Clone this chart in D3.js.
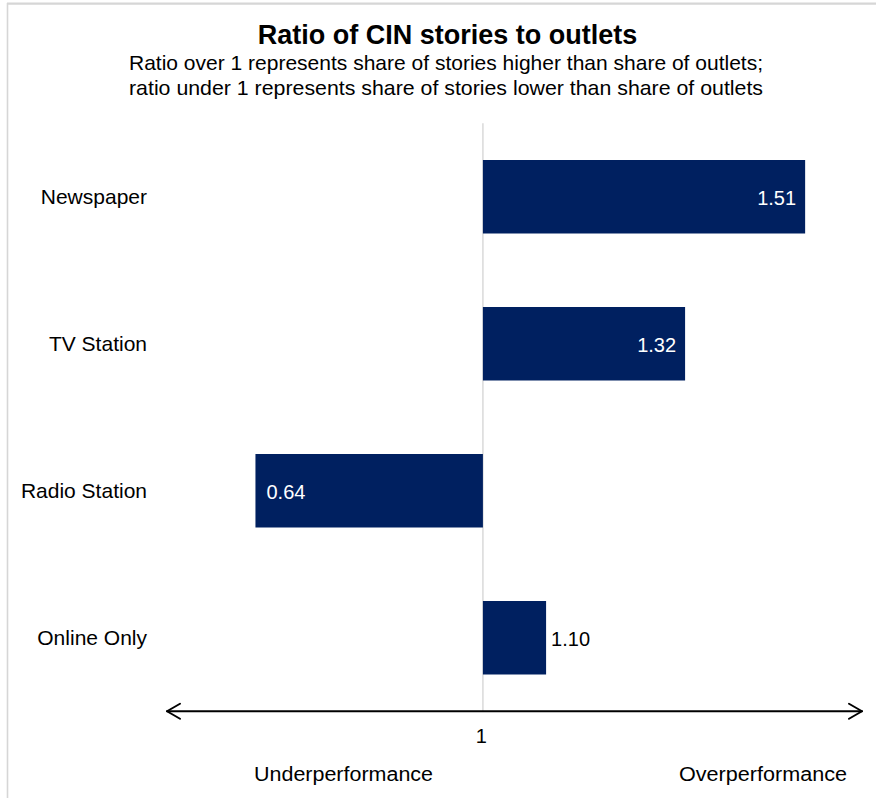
<!DOCTYPE html>
<html>
<head>
<meta charset="utf-8">
<script src="https://cdn.jsdelivr.net/npm/d3@7"></script>
<style>
  html, body { margin: 0; padding: 0; background: #fff; }
  svg { display: block; }
  text { font-family: "Liberation Sans", Arial, Helvetica, sans-serif; fill: #000; }
</style>
</head>
<body>
<svg id="chart" width="876" height="798"></svg>
<script>
// ---- data ----
const categories = ["Newspaper", "TV Station", "Radio Station", "Online Only"];
const ratios = [1.51, 1.32, 0.64, 1.10];
const baseline = 1;
const axisTickLabels = ["1"];
const directionLabels = ["Underperformance", "Overperformance"];
const title = "Ratio of CIN stories to outlets";
const subtitleLines = [
  "Ratio over 1 represents share of stories higher than share of outlets;",
  "ratio under 1 represents share of stories lower than share of outlets"
];

// ---- setup ----
const W = 876, H = 798;
const svg = d3.select("#chart");
const barColor = "#002060";
const gridColor = "#d9d9d9";

// frame lines (top and left)
svg.append("line").attr("x1", 7).attr("x2", W).attr("y1", 3.7).attr("y2", 3.7)
  .attr("stroke", "#d6d6d6").attr("stroke-width", 2.2);
svg.append("line").attr("x1", 7.5).attr("x2", 7.5).attr("y1", 3).attr("y2", H)
  .attr("stroke", "#d6d6d6").attr("stroke-width", 1.6);

// titles
svg.append("text").attr("x", 447.5).attr("y", 44).attr("text-anchor", "middle")
  .attr("font-size", 27).attr("font-weight", "bold").text(title);
svg.selectAll("text.sub").data(subtitleLines).join("text").attr("class", "sub")
  .attr("x", 446).attr("y", (d, i) => 70 + i * 25).attr("text-anchor", "middle")
  .attr("font-size", 21)
  .attr("textLength", 634).attr("lengthAdjust", "spacingAndGlyphs")
  .text(d => d);

// scales
const x = d3.scaleLinear().domain([0.5, 1.6]).range([167, 862]);
const y = d3.scaleBand().domain(categories).range([123.25, 711.25])
  .paddingInner(0.5).paddingOuter(0.25);

// gridline at baseline (vertical)
svg.append("line")
  .attr("x1", x(baseline)).attr("x2", x(baseline))
  .attr("y1", y.range()[0]).attr("y2", y.range()[1])
  .attr("stroke", gridColor).attr("stroke-width", 1.5);

const data = categories.map((c, i) => ({ cat: c, v: ratios[i] }));

// bars
svg.selectAll("rect.bar").data(data).join("rect").attr("class", "bar")
  .attr("x", d => Math.min(x(d.v), x(baseline)))
  .attr("y", d => y(d.cat))
  .attr("width", d => Math.abs(x(d.v) - x(baseline)))
  .attr("height", y.bandwidth())
  .attr("fill", barColor);

// value labels
const fmt = d3.format(".2f");
svg.selectAll("text.val").data(data).join("text").attr("class", "val")
  .attr("font-size", 20)
  .each(function (d) {
    const len = Math.abs(x(d.v) - x(baseline));
    const inside = len > 100;
    const up = d.v >= baseline;
    let xp, anchor;
    if (inside) {
      xp = up ? x(d.v) - 9 : x(d.v) + 11;
      anchor = up ? "end" : "start";
    } else {
      xp = up ? x(d.v) + 5 : x(d.v) - 5;
      anchor = up ? "start" : "end";
    }
    d3.select(this)
      .attr("x", xp)
      .attr("y", y(d.cat) + y.bandwidth() / 2 + 8)
      .attr("text-anchor", anchor)
      .style("fill", inside ? "#ffffff" : "#000000")
      .text(fmt(d.v));
  });

// category labels
svg.selectAll("text.cat").data(categories).join("text").attr("class", "cat")
  .attr("x", 147)
  .attr("y", d => y(d) + y.bandwidth() / 2 + 7.5)
  .attr("text-anchor", "end")
  .attr("font-size", 21)
  .text(d => d);

// double-headed arrow axis
const axY = y.range()[1];
const [ax0, ax1] = x.range();
const arrow = svg.append("g").attr("fill", "none").attr("stroke", "#000")
  .attr("stroke-width", 2).attr("stroke-linecap", "round").attr("stroke-linejoin", "round");
arrow.append("line").attr("x1", ax0).attr("x2", ax1).attr("y1", axY).attr("y2", axY);
arrow.append("path").attr("d", `M${ax0 + 13},${axY - 7.5} L${ax0},${axY} L${ax0 + 13},${axY + 7.5}`);
arrow.append("path").attr("d", `M${ax1 - 13},${axY - 7.5} L${ax1},${axY} L${ax1 - 13},${axY + 7.5}`);

// tick label "1"
svg.selectAll("text.tick").data(axisTickLabels).join("text").attr("class", "tick")
  .attr("x", d => x(+d) - 1.5).attr("y", 743).attr("text-anchor", "middle")
  .attr("font-size", 20).text(d => d);

// direction labels
svg.append("text").attr("x", 343.5).attr("y", 781).attr("text-anchor", "middle")
  .attr("font-size", 20).attr("textLength", 179).attr("lengthAdjust", "spacingAndGlyphs")
  .text(directionLabels[0]);
svg.append("text").attr("x", 763).attr("y", 781).attr("text-anchor", "middle")
  .attr("font-size", 20).attr("textLength", 168).attr("lengthAdjust", "spacingAndGlyphs")
  .text(directionLabels[1]);
</script>
</body>
</html>
